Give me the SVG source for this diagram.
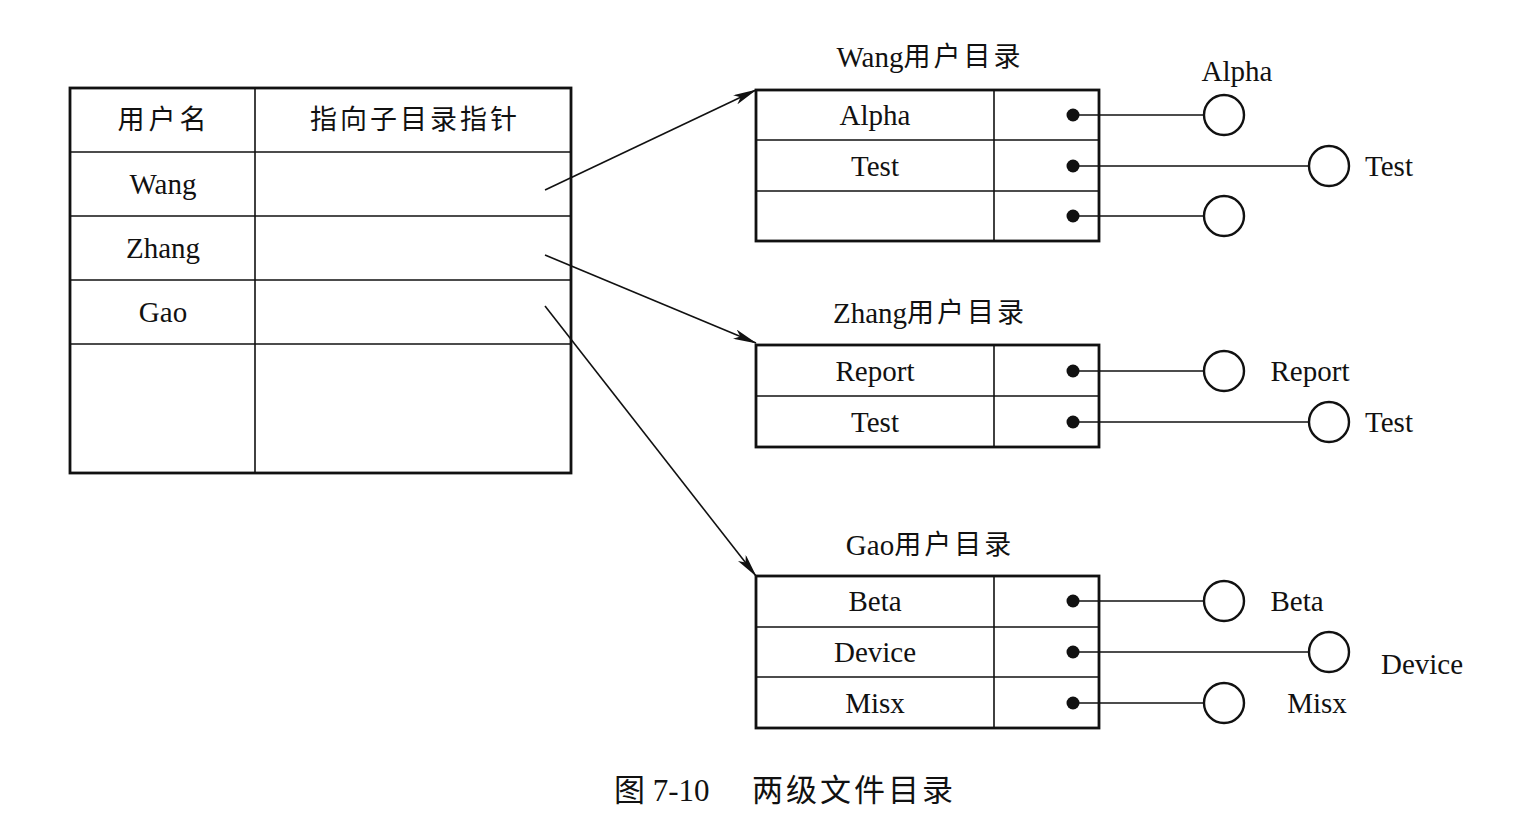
<svg xmlns="http://www.w3.org/2000/svg" width="1520" height="831" viewBox="0 0 1520 831">
<defs>
<style>
.t{font-family:"Liberation Serif","Noto Sans CJK SC",serif;font-size:29px;fill:#111;text-anchor:middle;dominant-baseline:central}
.cj{font-size:27px;letter-spacing:3px}
.b{fill:none;stroke:#111;stroke-width:2.8}
.l{fill:none;stroke:#111;stroke-width:1.6}
.c{fill:#fff;stroke:#111;stroke-width:2.4}
.d{fill:#111}
</style>
<marker id="ah" viewBox="0 0 24 10" refX="23" refY="5" markerWidth="24" markerHeight="10" markerUnits="userSpaceOnUse" orient="auto">
<path d="M0,0 L24,5 L0,10 L6,5 Z" fill="#111"/>
</marker>
</defs>
<rect width="1520" height="831" fill="#fff"/>

<g id="user-table">
<rect class="b" x="70" y="88" width="501" height="385"/>
<line class="l" x1="255" y1="88" x2="255" y2="473"/>
<line class="l" x1="70" y1="152" x2="571" y2="152"/>
<line class="l" x1="70" y1="216" x2="571" y2="216"/>
<line class="l" x1="70" y1="280" x2="571" y2="280"/>
<line class="l" x1="70" y1="344" x2="571" y2="344"/>
<text class="t" x="164" y="120" style="font-size:27px;letter-spacing:4px">用户名</text>
<text class="t" x="415" y="120" style="font-size:27px;letter-spacing:3px">指向子目录指针</text>
<text class="t" x="163" y="184">Wang</text>
<text class="t" x="163" y="248">Zhang</text>
<text class="t" x="163" y="312">Gao</text>
</g>

<g id="connectors">
<line class="l" x1="545" y1="190" x2="756" y2="90" marker-end="url(#ah)"/>
<line class="l" x1="545" y1="255" x2="756" y2="343" marker-end="url(#ah)"/>
<line class="l" x1="545" y1="306" x2="756" y2="576" marker-end="url(#ah)"/>
<line class="l" x1="1073" y1="115" x2="1204" y2="115"/>
<line class="l" x1="1073" y1="166" x2="1309" y2="166"/>
<line class="l" x1="1073" y1="216" x2="1204" y2="216"/>
<line class="l" x1="1073" y1="371" x2="1204" y2="371"/>
<line class="l" x1="1073" y1="422" x2="1309" y2="422"/>
<line class="l" x1="1073" y1="601" x2="1204" y2="601"/>
<line class="l" x1="1073" y1="652" x2="1309" y2="652"/>
<line class="l" x1="1073" y1="703" x2="1204" y2="703"/>
</g>

<g id="wang-dir">
<text class="t" x="930" y="57">Wang<tspan class="cj">用户目录</tspan></text>
<rect class="b" x="756" y="90" width="343" height="151"/>
<line class="l" x1="994" y1="90" x2="994" y2="241"/>
<line class="l" x1="756" y1="140" x2="1099" y2="140"/>
<line class="l" x1="756" y1="191" x2="1099" y2="191"/>
<text class="t" x="875" y="115">Alpha</text>
<text class="t" x="875" y="166">Test</text>
<circle class="d" cx="1073" cy="115" r="6.5"/>
<circle class="d" cx="1073" cy="166" r="6.5"/>
<circle class="d" cx="1073" cy="216" r="6.5"/>
</g>
<g id="wang-files">
<circle class="c" cx="1224" cy="115" r="20"/>
<text class="t" x="1237" y="71">Alpha</text>
<circle class="c" cx="1329" cy="166" r="20"/>
<text class="t" x="1389" y="166">Test</text>
<circle class="c" cx="1224" cy="216" r="20"/>
</g>

<g id="zhang-dir">
<text class="t" x="930" y="313">Zhang<tspan class="cj">用户目录</tspan></text>
<rect class="b" x="756" y="345" width="343" height="102"/>
<line class="l" x1="994" y1="345" x2="994" y2="447"/>
<line class="l" x1="756" y1="396" x2="1099" y2="396"/>
<text class="t" x="875" y="371">Report</text>
<text class="t" x="875" y="422">Test</text>
<circle class="d" cx="1073" cy="371" r="6.5"/>
<circle class="d" cx="1073" cy="422" r="6.5"/>
</g>
<g id="zhang-files">
<circle class="c" cx="1224" cy="371" r="20"/>
<text class="t" x="1310" y="371">Report</text>
<circle class="c" cx="1329" cy="422" r="20"/>
<text class="t" x="1389" y="422">Test</text>
</g>

<g id="gao-dir">
<text class="t" x="930" y="545">Gao<tspan class="cj">用户目录</tspan></text>
<rect class="b" x="756" y="576" width="343" height="152"/>
<line class="l" x1="994" y1="576" x2="994" y2="728"/>
<line class="l" x1="756" y1="627" x2="1099" y2="627"/>
<line class="l" x1="756" y1="677" x2="1099" y2="677"/>
<text class="t" x="875" y="601">Beta</text>
<text class="t" x="875" y="652">Device</text>
<text class="t" x="875" y="703">Misx</text>
<circle class="d" cx="1073" cy="601" r="6.5"/>
<circle class="d" cx="1073" cy="652" r="6.5"/>
<circle class="d" cx="1073" cy="703" r="6.5"/>
</g>
<g id="gao-files">
<circle class="c" cx="1224" cy="601" r="20"/>
<text class="t" x="1297" y="601">Beta</text>
<circle class="c" cx="1329" cy="652" r="20"/>
<text class="t" x="1422" y="664">Device</text>
<circle class="c" cx="1224" cy="703" r="20"/>
<text class="t" x="1317" y="703">Misx</text>
</g>

<g id="caption">
<text class="t" x="614" y="790" style="text-anchor:start;font-size:31px">图 7-10</text>
<text class="t" x="752" y="790" style="text-anchor:start;font-size:31px;letter-spacing:3px">两级文件目录</text>
</g>
</svg>
